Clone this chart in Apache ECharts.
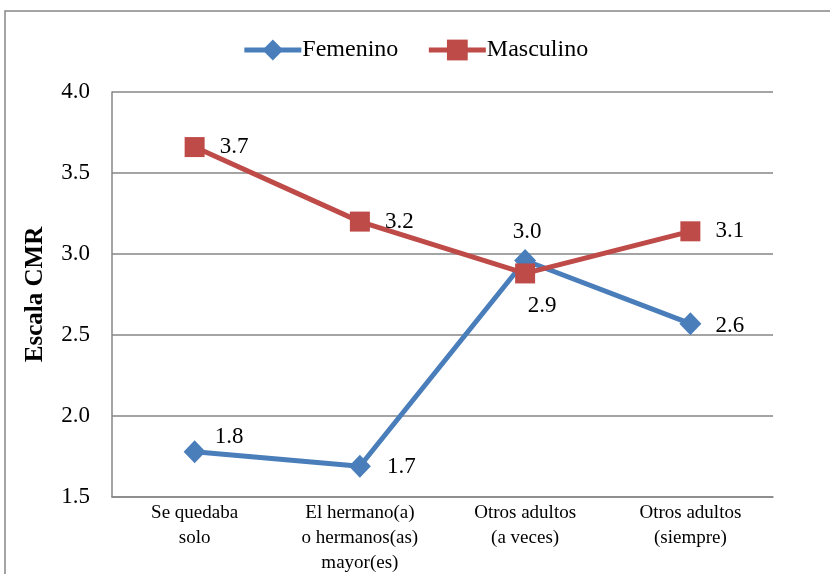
<!DOCTYPE html>
<html><head><meta charset="utf-8">
<script src="https://cdn.jsdelivr.net/npm/echarts@6/dist/echarts.min.js"></script>
<style>html,body{margin:0;padding:0;background:#fff}#c{width:830px;height:574px}</style>
</head><body><div id="c"></div>
<script>
const categories = ['Se quedaba\nsolo', 'El hermano(a)\no hermanos(as)\nmayor(es)', 'Otros adultos\n(a veces)', 'Otros adultos\n(siempre)'];
const femenino = [1.78, 1.69, 2.96, 2.57];
const masculino = [3.66, 3.20, 2.88, 3.14];
const yTicks = [1.5, 2.0, 2.5, 3.0, 3.5, 4.0];
// label placement: [position, distance, offset]
const femLabelPos = [['right', 9, [0, -15]], ['right', 16, [0, 1]], ['top', 6, [2, 0]], ['right', 14, [0, 2]]];
const mascLabelPos = [['right', 15, [0, 0]], ['right', 15, [0, 0]], ['bottom', 11, [17, 0]], ['right', 15, [0, 0]]];

const font = 'Liberation Serif';
const chart = echarts.init(document.getElementById('c'), null, {renderer: 'canvas'});
function mk(vals, pos) {
  return vals.map((v, i) => ({value: v, label: {position: pos[i][0], distance: pos[i][1], offset: pos[i][2]}}));
}
const lbl = {show: true, fontFamily: font, fontSize: 23, color: '#000', formatter: p => p.value.toFixed(1)};
chart.setOption({
  animation: false,
  textStyle: {fontFamily: font},
  graphic: [{type: 'rect', shape: {x: 5, y: 11, width: 900, height: 700}, style: {fill: 'none', stroke: '#868686', lineWidth: 1.5}, z: -1}],
  legend: {
    top: 33, left: 'center', itemWidth: 57, itemHeight: 26, itemGap: 28,
    lineStyle: {width: 5},
    textStyle: {fontFamily: font, fontSize: 24, color: '#000', padding: [0, 0, 0, -4]},
    data: ['Femenino', 'Masculino']
  },
  grid: {left: 112, right: 57, top: 92, bottom: 77, outerBoundsMode: 'none', containLabel: false},
  xAxis: {
    type: 'category', data: categories, boundaryGap: true,
    axisLine: {lineStyle: {color: '#868686', width: 1.5}},
    axisTick: {show: false},
    axisLabel: {fontFamily: font, fontSize: 19, color: '#000', lineHeight: 25, margin: 4, interval: 0}
  },
  yAxis: {
    type: 'value', min: yTicks[0], max: yTicks[yTicks.length - 1], interval: 0.5,
    name: 'Escala CMR', nameLocation: 'middle', nameGap: 64, nameRotate: 90,
    nameTextStyle: {fontFamily: font, fontSize: 25, fontWeight: 'bold', color: '#000'},
    axisLine: {show: true, lineStyle: {color: '#868686', width: 1.5}},
    axisTick: {show: false},
    splitLine: {lineStyle: {color: '#868686', width: 1.5}},
    axisLabel: {fontFamily: font, fontSize: 23, color: '#000', margin: 22, formatter: v => v.toFixed(1)}
  },
  series: [
    {
      name: 'Femenino', type: 'line', data: mk(femenino, femLabelPos),
      symbol: 'diamond', symbolSize: [22, 23],
      lineStyle: {color: '#4A7EBB', width: 5}, itemStyle: {color: '#4A7EBB'},
      label: lbl
    },
    {
      name: 'Masculino', type: 'line', data: mk(masculino, mascLabelPos),
      symbol: 'rect', symbolSize: 20,
      lineStyle: {color: '#BE4B48', width: 5}, itemStyle: {color: '#BE4B48'},
      label: lbl
    }
  ]
});
</script></body></html>
